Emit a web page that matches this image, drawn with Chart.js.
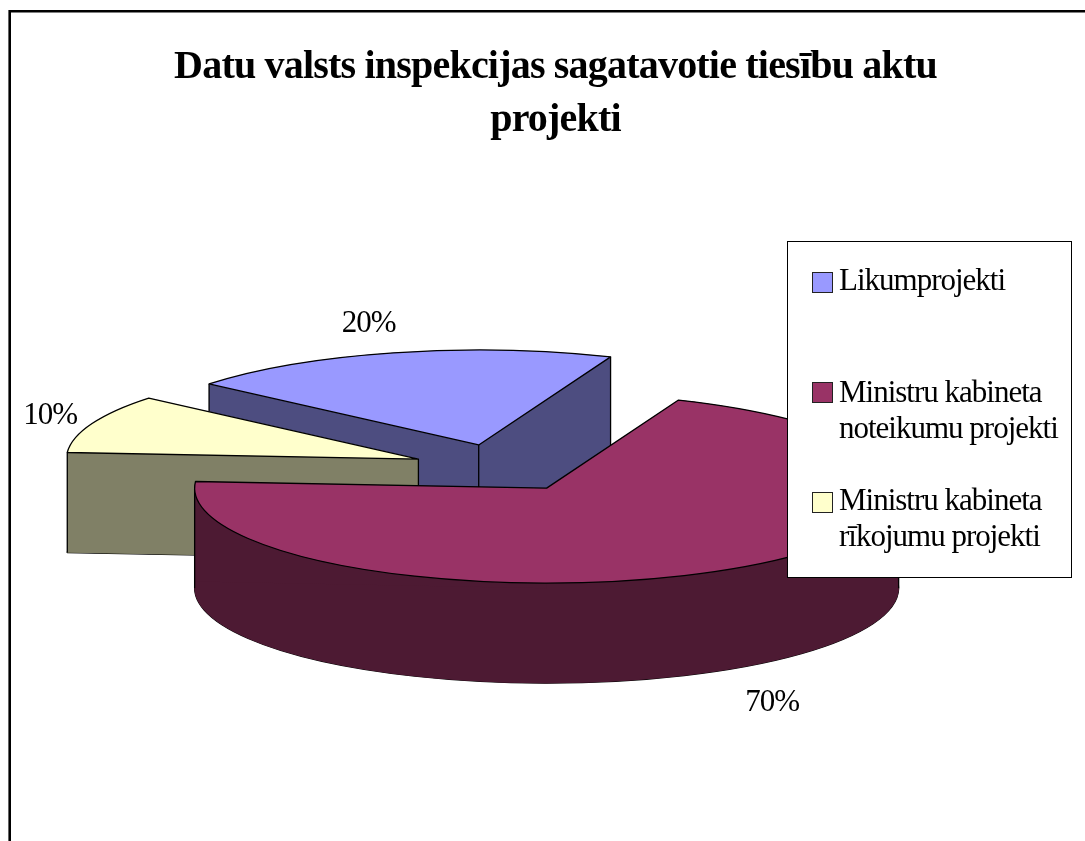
<!DOCTYPE html>
<html><head><meta charset="utf-8">
<style>html,body{margin:0;padding:0;background:#fff;overflow:hidden}canvas{display:block}</style>
<script src="https://cdn.jsdelivr.net/npm/chart.js@4"></script>
</head><body><canvas id="c" width="1085" height="841"></canvas>
<script>
const titleLines = ["Datu valsts inspekcijas sagatavotie tiesību aktu", "projekti"];
const categories = [["Likumprojekti"], ["Ministru kabineta", "noteikumu projekti"], ["Ministru kabineta", "rīkojumu projekti"]];
const values = [20, 70, 10];
const topColors = ["#9999FF", "#993366", "#FFFFCC"];
const sideColors = ["#4D4D80", "#4D1A33", "#808066"];
const drawOrder = [0, 2, 1];

const PIE = {cx: 500, cy: 468, rx: 352, ry: 95, depth: 100, explode: 0.25, rotation: -50};
const SERIF = '"Liberation Serif","Times New Roman",serif';
const labelNudge = [[-25, -21], [39, 142], [-42, 0]];
const legendRows = [{swatch: 272, base: [290]}, {swatch: 382, base: [402, 438]}, {swatch: 492, base: [510, 546]}];

function midAngle(arc) { return (arc.startAngle + arc.endAngle) / 2; }
function place(ctx, arc, dy) {
  const mid = midAngle(arc), R = arc.outerRadius;
  ctx.translate(PIE.cx + Math.cos(mid) * PIE.explode * PIE.rx, PIE.cy + Math.sin(mid) * PIE.explode * PIE.ry + dy);
  ctx.scale(PIE.rx / R, PIE.ry / R);
  ctx.translate(-arc.x, -arc.y);
}
function rimPoint(arc, angle) {
  const mid = midAngle(arc);
  return [PIE.cx + PIE.rx * (Math.cos(mid) * PIE.explode + Math.cos(angle)),
          PIE.cy + PIE.ry * (Math.sin(mid) * PIE.explode + Math.sin(angle))];
}
function apexPoint(arc) {
  const mid = midAngle(arc);
  return [PIE.cx + PIE.rx * Math.cos(mid) * PIE.explode, PIE.cy + PIE.ry * Math.sin(mid) * PIE.explode];
}
function sectorPath(ctx, arc, dy) {
  ctx.save();
  place(ctx, arc, dy);
  ctx.beginPath();
  ctx.moveTo(arc.x, arc.y);
  ctx.arc(arc.x, arc.y, arc.outerRadius, arc.startAngle, arc.endAngle);
  ctx.closePath();
  ctx.restore();
}
function drawWith(ctx, arc, color, dy) {
  const base = arc.options;
  arc.options = Object.create(base, {backgroundColor: {value: color}, borderColor: {value: color}});
  ctx.save();
  place(ctx, arc, dy);
  arc.draw(ctx);
  ctx.restore();
  arc.options = base;
}
// repaint the wall interiors once so the stacked layers leave a flat colour
function flattenWalls(ctx, arc, color) {
  const a = apexPoint(arc), d = PIE.depth;
  ctx.fillStyle = color;
  ctx.beginPath();
  ctx.ellipse(a[0], a[1], PIE.rx, PIE.ry, 0, arc.startAngle, arc.endAngle);
  ctx.ellipse(a[0], a[1] + d, PIE.rx, PIE.ry, 0, arc.endAngle, arc.startAngle, true);
  ctx.closePath();
  ctx.fill();
  for (const ang of [arc.startAngle, arc.endAngle]) {
    const p = rimPoint(arc, ang);
    ctx.beginPath();
    ctx.moveTo(a[0], a[1]);
    ctx.lineTo(p[0], p[1]);
    ctx.lineTo(p[0], p[1] + d);
    ctx.lineTo(a[0], a[1] + d);
    ctx.closePath();
    ctx.fill();
  }
}
// vertical edges of the extruded slice that the viewer can see
function visibleEdges(arc) {
  const s = arc.startAngle, e = arc.endAngle, pts = [];
  const startFront = Math.cos(s) < 0, endFront = Math.cos(e) > 0;
  if (startFront) pts.push(rimPoint(arc, s));
  if (endFront) pts.push(rimPoint(arc, e));
  if (startFront || endFront) pts.push(apexPoint(arc));
  for (let k = -2; k <= 2; k++) {
    const a = k * Math.PI;
    if (a > s && a < e) pts.push(rimPoint(arc, a));
  }
  return pts;
}
const pie3d = {
  id: 'pie3d',
  beforeDraw(chart) { chart.ctx.letterSpacing = '-0.8px'; },
  beforeDatasetsDraw(chart) {
    const ctx = chart.ctx, arcs = chart.getDatasetMeta(0).data;
    ctx.save();
    ctx.letterSpacing = '0px';
    for (const i of drawOrder) {
      const arc = arcs[i];
      ctx.strokeStyle = '#000';
      ctx.lineWidth = 1.3;
      ctx.lineJoin = 'round';
      sectorPath(ctx, arc, PIE.depth);
      ctx.stroke();
      for (let d = PIE.depth; d > 0; d -= 0.5) drawWith(ctx, arc, sideColors[i], d);
      flattenWalls(ctx, arc, sideColors[i]);
      ctx.beginPath();
      for (const p of visibleEdges(arc)) {
        ctx.moveTo(p[0], p[1]);
        ctx.lineTo(p[0], p[1] + PIE.depth);
      }
      ctx.stroke();
      drawWith(ctx, arc, topColors[i], 0);
      sectorPath(ctx, arc, 0);
      ctx.stroke();
    }
    ctx.restore();
    return false;
  },
  afterDraw(chart) {
    const ctx = chart.ctx, arcs = chart.getDatasetMeta(0).data;
    ctx.save();
    // outer frame
    ctx.strokeStyle = '#000';
    ctx.lineWidth = 2.6;
    ctx.beginPath();
    ctx.moveTo(9.7, 900); ctx.lineTo(9.7, 11.3); ctx.lineTo(1100, 11.3);
    ctx.stroke();
    // value labels
    ctx.fillStyle = '#000';
    ctx.font = '31px ' + SERIF;
    ctx.letterSpacing = '-1px';
    ctx.textAlign = 'center';
    ctx.textBaseline = 'alphabetic';
    values.forEach((v, i) => {
      const p = rimPoint(arcs[i], midAngle(arcs[i]));
      ctx.fillText(v + '%', p[0] + labelNudge[i][0], p[1] + labelNudge[i][1]);
    });
    // legend
    ctx.fillStyle = '#fff';
    ctx.fillRect(787, 241, 284, 336);
    ctx.strokeStyle = '#000';
    ctx.lineWidth = 1;
    ctx.strokeRect(787.5, 241.5, 284, 336);
    ctx.textAlign = 'left';
    categories.forEach((lines, i) => {
      const row = legendRows[i];
      ctx.fillStyle = topColors[i];
      ctx.fillRect(812.5, row.swatch + 0.5, 20, 20);
      ctx.strokeStyle = '#222';
      ctx.strokeRect(812.5, row.swatch + 0.5, 20, 20);
      ctx.fillStyle = '#000';
      lines.forEach((t, k) => ctx.fillText(t, 839, row.base[k]));
    });
    ctx.restore();
  }
};
new Chart(document.getElementById('c'), {
  type: 'pie',
  data: {labels: categories, datasets: [{data: values, backgroundColor: topColors, borderWidth: 0}]},
  options: {
    responsive: false,
    animation: false,
    rotation: PIE.rotation,
    events: [],
    layout: {padding: {left: 26}},
    plugins: {
      legend: {display: false},
      tooltip: {enabled: false},
      title: {display: true, text: titleLines, color: '#000',
        font: {family: SERIF, size: 40, weight: 'bold', lineHeight: 1.33},
        padding: {top: 41, bottom: 0}}
    }
  },
  plugins: [pie3d]
});
</script></body></html>
